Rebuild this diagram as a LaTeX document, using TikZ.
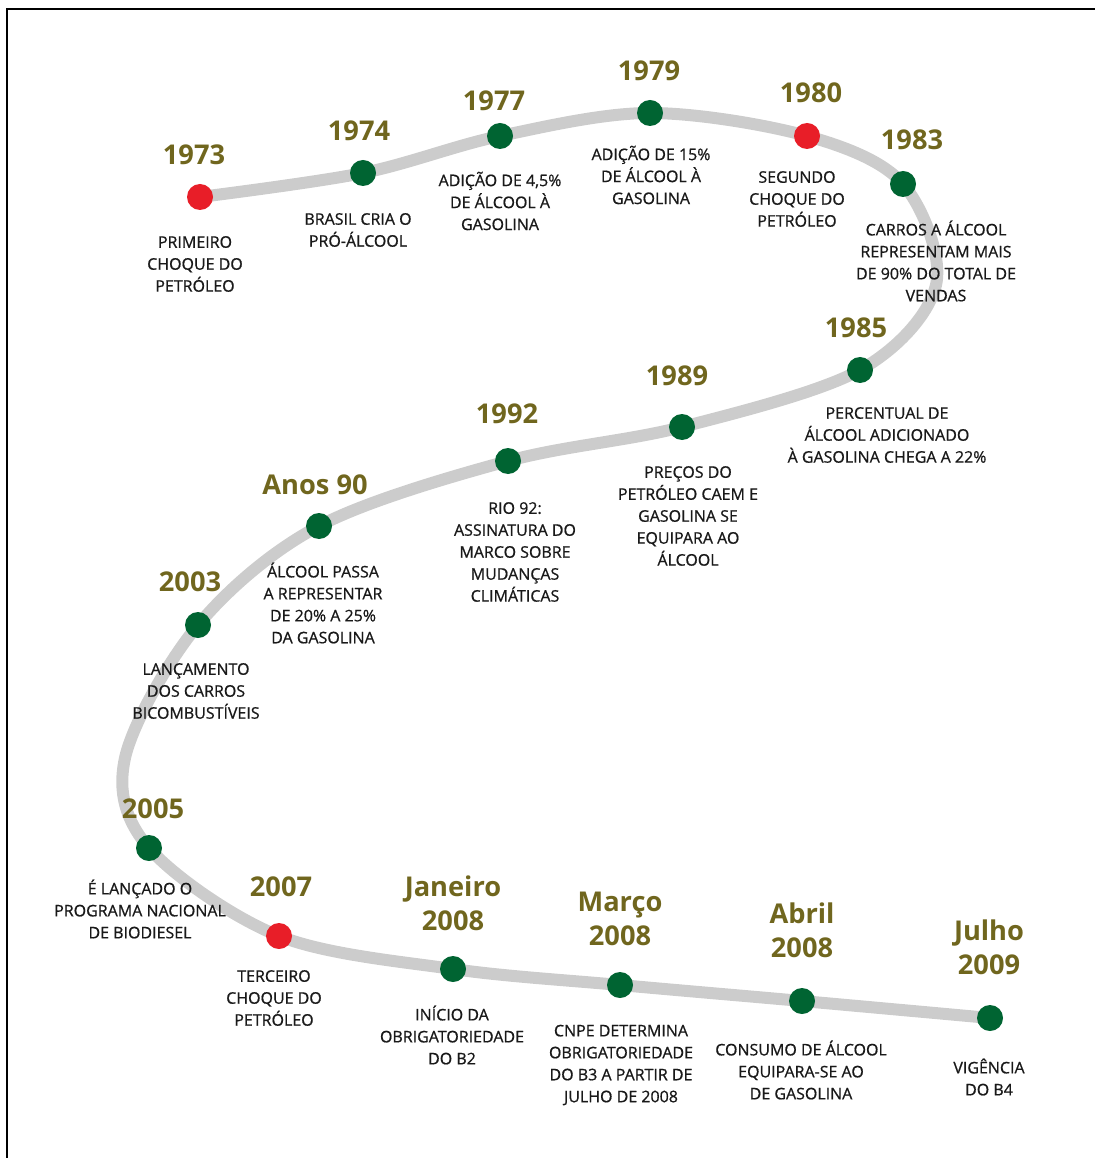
\documentclass[tikz,border=0pt]{standalone}
\usepackage{fontspec}
\usepackage{tikz}
\usepackage{xcolor}
\usetikzlibrary{backgrounds}
\setmainfont{Open Sans}
\newfontfamily\capfont[FakeBold=0.8]{Open Sans}
\definecolor{myolive}{RGB}{112, 102, 30}
\definecolor{mygreen}{RGB}{0, 100, 50}
\definecolor{myred}{RGB}{232, 30, 40}
\definecolor{mygray}{RGB}{204, 204, 204}
\definecolor{mytext}{RGB}{25, 25, 25}

\begin{document}
\begin{tikzpicture}[x=0.02cm,y=-0.02cm,
    dotg/.style={circle,fill=mygreen,inner sep=0pt,minimum size=26*0.02cm},
    dotr/.style={circle,fill=myred,inner sep=0pt,minimum size=26*0.02cm},
    year/.style={myolive,font=\fontsize{15.5}{19.5}\selectfont\bfseries,align=center,inner sep=0pt},
    caption/.style={mytext,font=\capfont\fontsize{9.1}{12.5}\selectfont,align=center,inner sep=0pt}]
        \useasboundingbox (0,0) rectangle (1095,1158);
        \draw[line width=2*0.02cm](7,1158)--(7,9)--(1095,9);
        % dots
        \node[dotr] (d73) at (200,197){};
        \node[dotg] (d74) at (363,173){};
        \node[dotg] (d77) at (500,136){};
        \node[dotg] (d79) at (650,113){};
        \node[dotr] (d80) at (807,136){};
        \node[dotg] (d83) at (903,184){};
        \node[dotg] (d85) at (860,370){};
        \node[dotg] (d89) at (682,427){};
        \node[dotg] (d92) at (508,461){};
        \node[dotg] (d90s) at (319,526){};
        \node[dotg] (d03) at (198,625){};
        \node[dotg] (d05) at (149,848){};
        \node[dotr] (d07) at (279,936){};
        \node[dotg] (djan) at (453,969){};
        \node[dotg] (dmar) at (620,985){};
        \node[dotg] (dabr) at (802,1001){};
        \node[dotg] (djul) at (990,1018){};
        \coordinate (bendr) at (936,285);
        \coordinate (bendl) at (125,758);
        \begin{scope}[on background layer]
          \draw[mygray,line width=12*0.02cm,line cap=round] plot[smooth,tension=0.55] coordinates
            {(d73) (d74) (d77) (d79) (d80) (d83) (bendr) (d85) (d89) (d92) (d90s) (d03) (bendl) (d05) (d07) (djan) (dmar) (dabr) (djul)};
        \end{scope}
        % years
        \node[year] at (194,155){1973};
        \node[year] at (359,131){1974};
        \node[year] at (494,101){1977};
        \node[year] at (649,71){1979};
        \node[year] at (811,93){1980};
        \node[year] at (912,140){1983};
        \node[year] at (856,328){1985};
        \node[year] at (677,376){1989};
        \node[year] at (507,414){1992};
        \node[year] at (315,485){Anos 90};
        \node[year] at (190,582){2003};
        \node[year] at (153,809){2005};
        \node[year] at (281,887){2007};
        \node[year] at (453,903){Janeiro\\2008};
        \node[year] at (620,919){Março\\2008};
        \node[year] at (802,930){Abril\\2008};
        \node[year] at (989,947){Julho\\2009};
        % texts
        \node[caption] at (195,264){PRIMEIRO\\CHOQUE DO\\PETRÓLEO};
        \node[caption] at (358,230){BRASIL CRIA O\\PRÓ-ÁLCOOL};
        \node[caption] at (500,201){ADIÇÃO DE 4,5\%\\DE ÁLCOOL À\\GASOLINA};
        \node[caption] at (651,175){ADIÇÃO DE 15\%\\DE ÁLCOOL À\\GASOLINA};
        \node[caption] at (797,199){SEGUNDO\\CHOQUE DO\\PETRÓLEO};
        \node[caption] at (936,261){CARROS A ÁLCOOL\\REPRESENTAM MAIS\\DE 90\% DO TOTAL DE\\VENDAS};
        \node[caption] at (887,435){PERCENTUAL DE\\ÁLCOOL ADICIONADO\\À GASOLINA CHEGA A 22\%};
        \node[caption] at (688,516){PREÇOS DO\\PETRÓLEO CAEM E\\GASOLINA SE\\EQUIPARA AO\\ÁLCOOL};
        \node[caption] at (515,552){RIO 92:\\ASSINATURA DO\\MARCO SOBRE\\MUDANÇAS\\CLIMÁTICAS};
        \node[caption] at (323,603){ÁLCOOL PASSA\\A REPRESENTAR\\DE 20\% A 25\%\\DA GASOLINA};
        \node[caption] at (196,691){LANÇAMENTO\\DOS CARROS\\BICOMBUSTÍVEIS};
        \node[caption] at (140,909){É LANÇADO O\\PROGRAMA NACIONAL\\DE BIODIESEL};
        \node[caption] at (274,998){TERCEIRO\\CHOQUE DO\\PETRÓLEO};
        \node[caption] at (452,1035){INÍCIO DA\\OBRIGATORIEDADE\\DO B2};
        \node[caption] at (621,1065){CNPE DETERMINA\\OBRIGATORIEDADE\\DO B3 A PARTIR DE\\JULHO DE 2008};
        \node[caption] at (801,1070){CONSUMO DE ÁLCOOL\\EQUIPARA-SE AO\\DE GASOLINA};
        \node[caption] at (989,1077){VIGÊNCIA\\DO B4};
      \end{tikzpicture}
\end{document}
